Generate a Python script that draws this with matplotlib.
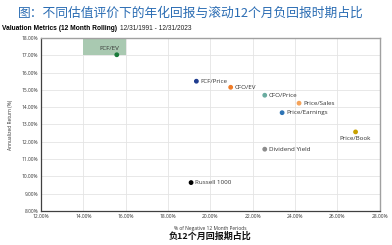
import numpy as np
import matplotlib.pyplot as plt
from matplotlib.patches import Rectangle

plt.rcParams['font.family'] = ['Noto Sans CJK SC', 'DejaVu Sans']

# Data
metrics = ["FCF/EV", "FCF/Price", "CFO/EV", "CFO/Price", "Price/Sales",
           "Price/Earnings", "Price/Book", "Dividend Yield", "Russell 1000"]
neg_periods = [15.58, 19.34, 20.96, 22.57, 24.19, 23.39, 26.86, 22.57, 19.09]
ann_return = [17.03, 15.50, 15.15, 14.69, 14.23, 13.68, 12.57, 11.57, 9.64]
colors = ["#1a7a3a", "#1f3c8f", "#f07c28", "#6aaca0", "#f5a35a",
          "#2e74b5", "#c9a200", "#8c8c8c", "#000000"]
x_ticks = np.arange(12, 28.1, 2)
y_ticks = np.arange(8, 18.1, 1)

fig = plt.figure(figsize=(3.92, 2.45), dpi=100)
ax = fig.add_axes([0.1046, 0.139, 0.864, 0.706])

# highlight box behind the best metric
ax.add_patch(Rectangle((14, 17), 2, 1, facecolor="#a9c9b1", edgecolor="none", zorder=1))

ax.scatter(neg_periods, ann_return, s=6, c=colors, zorder=3)

for name, x, y in zip(metrics, neg_periods, ann_return):
    if name == "FCF/EV":
        ax.annotate(name, (x, y), xytext=(2, 3), textcoords="offset points",
                    ha="right", va="bottom", fontsize=4.5, color="#333333",
                    family="Open Sans")
    elif name == "Price/Book":
        ax.annotate(name, (x, y), xytext=(0, -3), textcoords="offset points",
                    ha="center", va="top", fontsize=4.5, color="#333333",
                    family="Open Sans")
    else:
        ax.annotate(name, (x, y), xytext=(3, 0), textcoords="offset points",
                    ha="left", va="center", fontsize=4.5, color="#333333",
                    family="Open Sans")

ax.set_xlim(12, 28)
ax.set_ylim(8, 18)
ax.set_xticks(x_ticks)
ax.set_yticks(y_ticks)
ax.set_xticklabels([f"{v:.2f}%" for v in x_ticks], fontsize=3.5, family="Open Sans", color="#333333")
ax.set_yticklabels([f"{v:.2f}%" for v in y_ticks], fontsize=3.5, family="Open Sans", color="#333333")
ax.tick_params(length=0, pad=2)
ax.grid(True, color="#e4e4e4", linewidth=0.6, zorder=0)
ax.set_axisbelow(True)

for side in ["left", "bottom"]:
    ax.spines[side].set_color("#404040")
    ax.spines[side].set_linewidth(0.9)
for side in ["top", "right"]:
    ax.spines[side].set_color("#a0a0a0")
    ax.spines[side].set_linewidth(1.0)

ax.set_xlabel("% of Negative 12 Month Periods", fontsize=3.5, family="Open Sans",
              color="#333333", labelpad=5)
ax.set_ylabel("Annualized Return (%)", fontsize=3.5, family="Open Sans",
              color="#333333", labelpad=6)

fig.text(0.487, 0.945, "图：不同估值评价下的年化回报与滚动12个月负回报时期占比",
         ha="center", va="center", fontsize=9.2, color="#2a6cb3")
fig.text(0.005, 0.882, "Valuation Metrics (12 Month Rolling)", ha="left", va="center",
         fontsize=4.8, fontweight="bold", family="Liberation Sans")
fig.text(0.306, 0.882, "12/31/1991 - 12/31/2023", ha="left", va="center",
         fontsize=4.8, family="Liberation Sans", color="#222222")
fig.text(0.537, 0.037, "负12个月回报期占比", ha="center", va="center",
         fontsize=6.5, fontweight="bold", color="#111111")

fig.savefig("out.png", dpi=100)
